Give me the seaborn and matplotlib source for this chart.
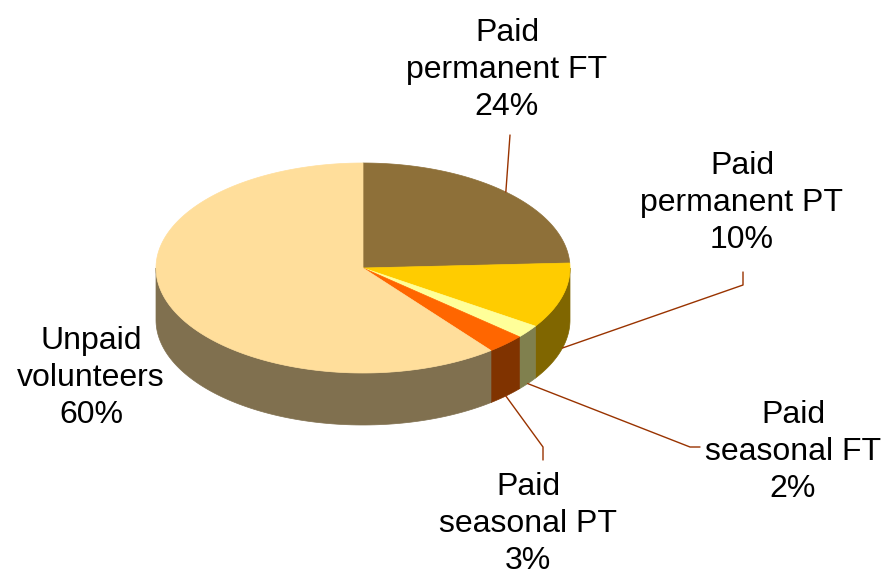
import numpy as np
import matplotlib
matplotlib.use("Agg")
import matplotlib.pyplot as plt
from matplotlib.patches import Polygon
import seaborn as sns

# data
categories = ["Paid\npermanent FT", "Paid\npermanent PT", "Paid\nseasonal FT",
              "Paid\nseasonal PT", "Unpaid\nvolunteers"]
shares = [24, 10, 2, 3, 60]
top_colors = ["#8E7039", "#FFCC00", "#FFFF99", "#FF6600", "#FFDE9B"]
side_colors = ["#47381C", "#806600", "#80804E", "#803300", "#80704F"]

# layout (pixel units of the 883x577 canvas)
cx, cy, rx, ry, depth = 363, 268, 207, 105, 52
label_xy = [(507, 70), (742, 203), (793, 452), (528, 524), (91, 378)]
leader_bends = [[(510, 135)], [(743, 285), (743, 272)], [(690, 447), (700, 447)],
                [(543, 447), (543, 460)], None]

sns.set_theme(style="white")
plt.rcParams["font.family"] = ["Liberation Sans", "DejaVu Sans"]

fig = plt.figure(figsize=(8.83, 5.77), dpi=100)
ax = fig.add_axes([0, 0, 1, 1])
ax.set_xlim(0, 883)
ax.set_ylim(577, 0)
ax.axis("off")


def ell(theta_deg, drop=0.0):
    t = np.radians(theta_deg)
    return cx + rx * np.cos(t), cy - ry * np.sin(t) + drop


total = float(sum(shares))
starts, ends = [], []
a = 90.0
for s in shares:
    starts.append(a)
    a -= s / total * 360.0
    ends.append(a)

# side walls (front half only)
for a0, a1, col in zip(starts, ends, side_colors):
    lo, hi = max(a1, -180.0), min(a0, 0.0)
    if hi <= lo:
        continue
    th = np.linspace(lo, hi, 100)
    x, y = ell(th)
    pts = np.column_stack([np.r_[x, x[::-1]], np.r_[y, (y + depth)[::-1]]])
    ax.add_patch(Polygon(pts, closed=True, facecolor=col, edgecolor=col, lw=0.5))

# top faces
for a0, a1, col in zip(starts, ends, top_colors):
    th = np.linspace(a1, a0, 200)
    x, y = ell(th)
    pts = np.column_stack([np.r_[cx, x], np.r_[cy, y]])
    ax.add_patch(Polygon(pts, closed=True, facecolor=col, edgecolor=col, lw=0.5))

# labels and leader lines
for name, s, a0, a1, (lx, ly), bends in zip(categories, shares, starts, ends,
                                             label_xy, leader_bends):
    ax.text(lx, ly, f"{name}\n{s}%", ha="center", va="center",
            fontsize=23, linespacing=1.3, color="black")
    if bends is None:
        continue
    mid = (a0 + a1) / 2.0
    drop = depth if np.sin(np.radians(mid)) < 0 else 0.0
    px, py = ell(mid, drop)
    xs = [px] + [b[0] for b in bends]
    ys = [py] + [b[1] for b in bends]
    ax.plot(xs, ys, color="#993300", lw=1.0)

fig.savefig("out.png", dpi=100)
